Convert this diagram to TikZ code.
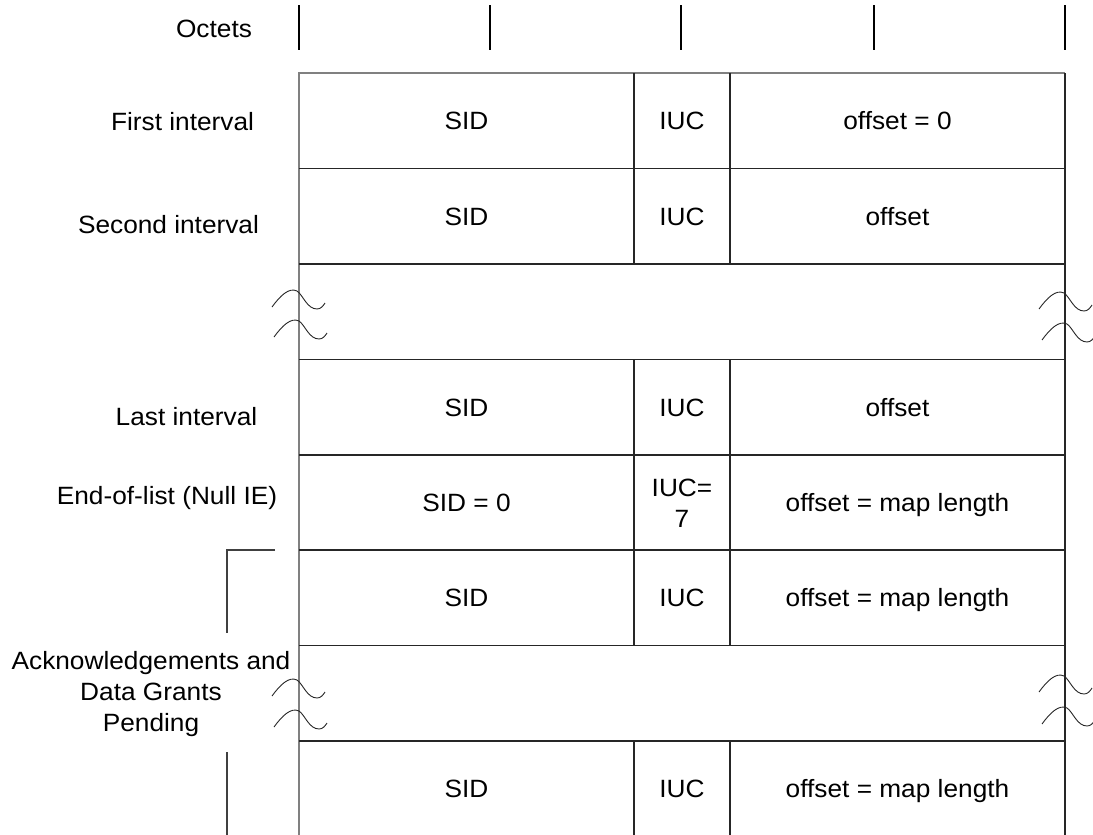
\documentclass[tikz,border=0pt]{standalone}
\usepackage{fontspec}
\setmainfont{Liberation Sans}[FakeStretch=1.05]
\newcommand\brkwave[2]{\draw[wave, shift={(#1,#2)}] (-25,17) .. controls (-17,6) and (-8,-3) .. (0,1) .. controls (6,5) and (10,19) .. (20,19) .. controls (24,19) and (26,16) .. (28,13);}
\begin{document}
\begin{tikzpicture}[x=1pt,y=-1pt,
  txt/.style={font=\fontsize{25}{31}\selectfont, align=center, inner sep=0pt, anchor=base},
  grid/.style={line width=1.3pt, draw=black!85},
  edge/.style={line width=1.3pt, draw=black!50},
  tickmark/.style={line width=2pt, draw=black},
  wave/.style={line width=0.9pt, draw=black!85},
  brack/.style={line width=1.2pt, draw=black!75}]
\useasboundingbox (0,0) rectangle (1093,835);

% octet ticks
\foreach \x in {299,490,681,874,1065} \draw[tickmark] (\x,5) -- (\x,50);
\node[txt] (octets) at (214,37) {Octets};

% table outline
\draw[edge] (299,835) -- (299,73) -- (1065,73);
\draw[grid] (1065,73) -- (1065,835);
\foreach \y in {168.5,264,359.5,455,550,645.5,741} \draw[grid] (299,\y) -- (1065,\y);
% column separators
\foreach \x in {634,730} {
  \draw[grid] (\x,73) -- (\x,264);
  \draw[grid] (\x,359.5) -- (\x,645.5);
  \draw[grid] (\x,741) -- (\x,835);
}

% row labels
\node[txt] (l1) at (182.5,130) {First interval};
\node[txt] (l2) at (168.5,233) {Second interval};
\node[txt] (l4) at (186.5,425.5) {Last interval};
\node[txt] (l5) at (167,504) {End-of-list (Null IE)};
\node[txt] (l6) at (151,731) {Acknowledgements and\\Data Grants\\Pending};

% cell contents
\node[txt] (s1) at (466.5,129.75) {SID};
\node[txt] (i1) at (682,129.75) {IUC};
\node[txt] (o1) at (897.5,129.75) {offset = 0};
\node[txt] (s2) at (466.5,225) {SID};
\node[txt] (i2) at (682,225) {IUC};
\node[txt] (o2) at (897.5,225) {offset};
\node[txt] (s4) at (466.5,416) {SID};
\node[txt] (i4) at (682,416) {IUC};
\node[txt] (o4) at (897.5,416) {offset};
\node[txt] (s5) at (466.5,511.5) {SID = 0};
\node[txt] (i5) at (682,527) {IUC=\\7};
\node[txt] (o5) at (897.5,511.5) {offset = map length};
\node[txt] (s6) at (466.5,606.75) {SID};
\node[txt] (i6) at (682,606.75) {IUC};
\node[txt] (o6) at (897.5,606.75) {offset = map length};
\node[txt] (s8) at (466.5,797) {SID};
\node[txt] (i8) at (682,797) {IUC};
\node[txt] (o8) at (897.5,797) {offset = map length};

% break marks
\brkwave{297}{290}
\brkwave{299}{320}
\brkwave{1064}{292}
\brkwave{1067}{323}
\brkwave{297}{679}
\brkwave{299}{710}
\brkwave{1064}{675}
\brkwave{1067}{707}

% bracket
\draw[brack] (275,550) -- (227,550) -- (227,633);
\draw[brack] (227,752) -- (227,835);
\end{tikzpicture}
\end{document}
